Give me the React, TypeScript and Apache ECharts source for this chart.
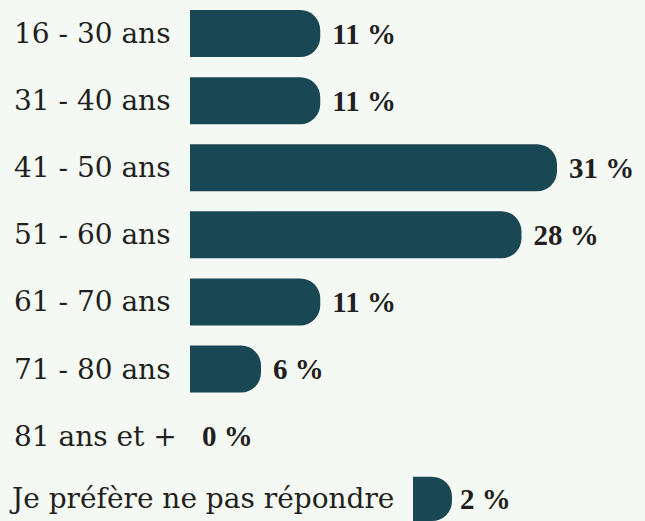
import React, { useEffect, useRef } from "react";
import * as echarts from "echarts";

const categories = ["16 - 30 ans", "31 - 40 ans", "41 - 50 ans", "51 - 60 ans", "61 - 70 ans", "71 - 80 ans", "81 ans et +"];
const values = [11, 11, 31, 28, 11, 6, 0];
const extraCategories = ["Je préfère ne pas répondre"];
const extraValues = [2];

const BAR = "#1a4754";
const TEXT = "#231f20";
const BG = "#f4f9f3";
const ROW = 67.1;

export default function App() {
  const ref = useRef<HTMLDivElement>(null);
  useEffect(() => {
    if (!ref.current) return;
    const chart = echarts.init(ref.current, null, { renderer: "svg" });
    const maxV = Math.max(...values, ...extraValues);
    const catLabel = {
      fontFamily: "DejaVu Serif",
      fontSize: 28,
      color: TEXT,
      align: "left" as const,
    };
    const valLabel = {
      show: true,
      position: "right" as const,
      distance: 12,
      formatter: "{c} %",
      fontFamily: "Liberation Serif",
      fontWeight: "bold" as const,
      fontSize: 29,
      color: TEXT,
    };
    chart.setOption({
      animation: false,
      backgroundColor: BG,
      grid: [
        { left: 190, right: 88, top: 0, height: ROW * categories.length },
        { left: 413, right: 88, top: ROW * categories.length + 7, height: ROW * extraCategories.length },
      ],
      xAxis: [
        { type: "value", gridIndex: 0, min: 0, max: maxV, show: false },
        { type: "value", gridIndex: 1, min: 0, max: maxV, show: false },
      ],
      yAxis: [
        {
          type: "category",
          gridIndex: 0,
          data: categories,
          inverse: true,
          axisLine: { show: false },
          axisTick: { show: false },
          axisLabel: { ...catLabel, margin: 176 },
        },
        {
          type: "category",
          gridIndex: 1,
          data: extraCategories,
          inverse: true,
          axisLine: { show: false },
          axisTick: { show: false },
          axisLabel: { ...catLabel, margin: 401 },
        },
      ],
      series: [
        {
          type: "bar",
          xAxisIndex: 0,
          yAxisIndex: 0,
          data: values,
          barWidth: 47,
          itemStyle: { color: BAR, borderRadius: [0, 20, 20, 0] },
          label: valLabel,
        },
        {
          type: "bar",
          xAxisIndex: 1,
          yAxisIndex: 1,
          data: extraValues,
          barWidth: 47,
          barMinHeight: 39,
          itemStyle: { color: BAR, borderRadius: [0, 20, 20, 0] },
          label: { ...valLabel, distance: 8 },
        },
      ],
    });
    return () => chart.dispose();
  }, []);
  return (
    <div
      ref={ref}
      style={{ position: "fixed", left: 0, top: 0, width: 645, height: 521 }}
    />
  );
}
